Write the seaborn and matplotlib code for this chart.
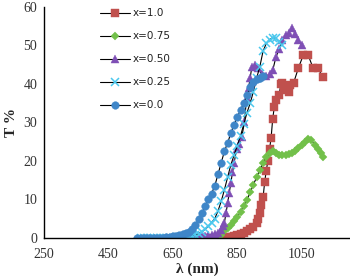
import matplotlib
matplotlib.use("Agg")
import matplotlib.pyplot as plt
import seaborn as sns
import pandas as pd

# wavelength (nm) / transmittance (%) for each composition
lam_10 = [790, 800, 810, 820, 830, 840, 850, 860, 870, 880, 890, 900, 910, 915, 920, 925,
          930, 935, 940, 945, 950, 955, 960, 965, 970, 980, 985, 990, 995, 1000, 1010, 1015,
          1025, 1040, 1055, 1070, 1085, 1100, 1115]
t_10 = [0, 0, 0.1, 0.2, 0.3, 0.5, 0.7, 1.0, 1.3, 1.7, 2.2, 2.8, 3.9, 5.0, 6.5, 8.5,
        10.5, 14.5, 17.5, 20, 23, 26, 31, 34, 35.8, 37, 40, 40.3, 38.5, 39, 38, 39.7,
        40.3, 44.2, 47.5, 47.5, 44.2, 44.2, 41.8]

lam_075 = [790, 800, 810, 820, 830, 840, 850, 860, 870, 880, 890, 900, 910, 920, 930, 940,
           950, 960, 970, 980, 990, 1000, 1010, 1020, 1030, 1040, 1050, 1060, 1070, 1080,
           1090, 1100, 1110, 1115]
t_075 = [0, 0.8, 1.8, 2.5, 3.4, 4.3, 5.5, 6.8, 8.4, 9.9, 11.8, 13.8, 15.8, 17.7, 19.5, 21,
         22, 22.5, 22, 21.6, 21.6, 21.6, 21.8, 22, 22.5, 23.4, 24.2, 25, 25.8, 25.5,
         24.2, 23, 22, 21]

lam_050 = [560, 570, 580, 590, 600, 610, 620, 630, 640, 650, 660, 670, 680, 690, 700, 710,
           720, 730, 740, 750, 760, 770, 780, 790, 800, 805, 810, 815, 820, 825, 830, 835,
           840, 848, 856, 864, 872, 879, 885, 890, 895, 904, 913, 926, 940, 950, 960, 970,
           980, 990, 1000, 1010, 1020, 1030, 1040, 1050]
t_050 = [0, 0, 0, 0, 0, 0, 0, 0, 0, 0, 0.1, 0.1, 0.1, 0.2, 0.2, 0.3,
         0.3, 0.4, 0.5, 0.6, 0.7, 0.8, 1.0, 1.2, 2, 3, 4, 6.5, 9, 11.7, 14.3, 17,
         19.5, 23, 24.5, 26.2, 30, 36.4, 39, 41.5, 44.4, 45, 44.2, 42.5, 42, 42.5, 43.5, 47,
         49, 51.5, 52.7, 53.2, 54.5, 53, 51.5, 50]

lam_025 = [550, 560, 570, 580, 590, 600, 610, 620, 630, 640, 650, 660, 670, 680, 690, 700,
           710, 720, 730, 740, 750, 760, 770, 780, 790, 800, 810, 820, 830, 840, 850, 860,
           870, 880, 890, 900, 910, 920, 930, 940, 950, 960, 970, 980, 990]
t_025 = [0, 0, 0, 0, 0, 0, 0, 0, 0.1, 0.1, 0.1, 0.2, 0.2, 0.3, 0.4, 0.5,
         0.6, 0.8, 1.1, 1.6, 2.2, 3, 4, 5, 7, 9.5, 12.5, 15.8, 19, 21.5, 24, 26.5,
         29.5, 32.5, 35, 38, 41.5, 44.5, 48.5, 50.5, 51.5, 52, 51.8, 51, 50]

lam_00 = [540, 550, 560, 570, 580, 590, 600, 610, 620, 630, 640, 650, 660, 670, 680, 690,
          700, 710, 720, 730, 740, 750, 760, 770, 780, 790, 800, 810, 820, 830, 840, 850,
          860, 870, 880, 890, 900, 910, 920, 930]
t_00 = [0, 0, 0, 0, 0, 0, 0, 0.1, 0.1, 0.2, 0.3, 0.4, 0.5, 0.7, 0.9, 1.2,
        1.6, 2.4, 3.4, 4.9, 6.5, 8.2, 10, 11.5, 13.5, 16.5, 19.5, 22.5, 24.7, 27.2, 29.4, 31.4,
        33.2, 35, 37, 39.2, 40.5, 41.3, 41.6, 42]

labels = ["x=1.0", "x=0.75", "x=0.50", "x=0.25", "x=0.0"]
series = [(lam_10, t_10), (lam_075, t_075), (lam_050, t_050), (lam_025, t_025), (lam_00, t_00)]
colors = ["#C0504D", "#72C04A", "#7F4FB5", "#4BC8EE", "#3F86C8"]
markers = ["s", "D", "^", "x", "o"]
msizes = [5.5, 4.2, 5.5, 5.5, 5.5]

sns.set_style("white")
plt.rcParams['font.family'] = ['DejaVu Sans']

fig = plt.figure(figsize=(3.5, 2.76), dpi=100)
ax = fig.add_axes([0.126, 0.138, 0.874, 0.837])

for (lam, t), lab, c, m, ms in zip(series, labels, colors, markers, msizes):
    df = pd.DataFrame({"lam": lam, "T": t})
    sns.lineplot(data=df, x="lam", y="T", ax=ax, label=lab, color="black", lw=0.8,
                 marker=m, markersize=ms, markerfacecolor=c, markeredgecolor=c,
                 markeredgewidth=1.1 if m == "x" else 0.3, estimator=None, sort=False)

ax.set_xlim(250, 1200)
ax.set_ylim(0, 60)
ax.set_xticks([250, 450, 650, 850, 1050])
ax.set_yticks(range(0, 61, 10))
sns.despine(ax=ax)
for s in ["left", "bottom"]:
    ax.spines[s].set_color("black")
    ax.spines[s].set_linewidth(1.0)
ax.tick_params(direction="out", length=3, width=0.8, color="black", pad=2)
ax.tick_params(axis="x", pad=4)
for lbl in ax.get_xticklabels() + ax.get_yticklabels():
    lbl.set_family("Liberation Serif")
    lbl.set_fontsize(10)
    lbl.set_color("#333333")

ax.set_xlabel("λ (nm)", family="Liberation Serif", fontweight="bold", fontsize=11, labelpad=1)
ax.set_ylabel("T %", family="Liberation Serif", fontweight="bold", fontsize=11, labelpad=4)

leg = ax.legend(loc="upper left", bbox_to_anchor=(0.275, 0.985), bbox_transform=fig.transFigure,
                frameon=False, fontsize=7.5, handlelength=2.8, handletextpad=0.3,
                labelspacing=1.25, borderaxespad=0.0)
for txt in leg.get_texts():
    txt.set_color("#222222")

fig.savefig("out.png", dpi=100)
